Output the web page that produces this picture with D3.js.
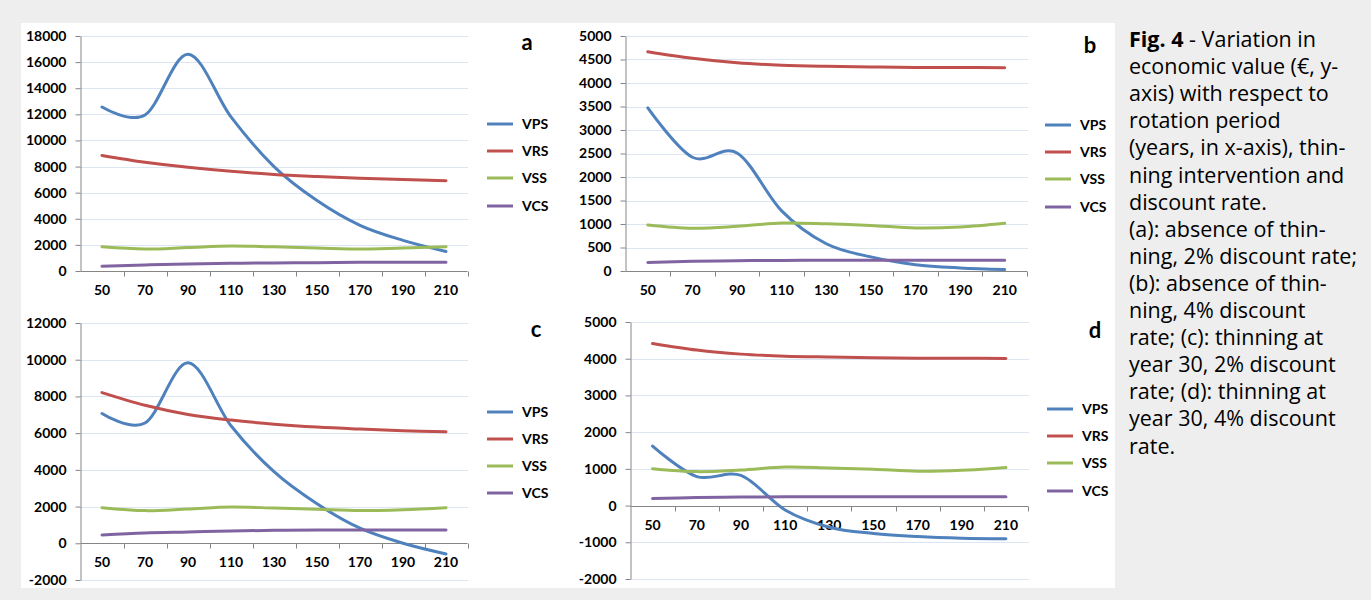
<!DOCTYPE html>
<html>
<head>
<meta charset="utf-8">
<script src="https://cdn.jsdelivr.net/npm/d3@7"></script>
<style>
  html, body { margin: 0; padding: 0; background: #eeeeee; }
  svg { display: block; }
</style>
</head>
<body>
<svg id="chart" width="1371" height="600"></svg>
<script>
// ---------- DATA ----------
const categories = [50, 70, 90, 110, 130, 150, 170, 190, 210];
const seriesNames = ["VPS", "VRS", "VSS", "VCS"];

// panel a: absence of thinning, 2% discount rate
const VPS_a = [12560, 11950, 16600, 11800, 8000, 5400, 3500, 2350, 1500];
const VRS_a = [8850, 8330, 7950, 7640, 7390, 7230, 7100, 7000, 6920];
const VSS_a = [1850, 1680, 1800, 1920, 1850, 1770, 1680, 1770, 1850];
const VCS_a = [360, 460, 540, 590, 620, 640, 665, 670, 670];
const yTicks_a = [0, 2000, 4000, 6000, 8000, 10000, 12000, 14000, 16000, 18000];

// panel b: absence of thinning, 4% discount rate
const VPS_b = [3470, 2420, 2510, 1280, 580, 300, 135, 65, 30];
const VRS_b = [4665, 4525, 4430, 4380, 4355, 4340, 4332, 4330, 4325];
const VSS_b = [980, 910, 950, 1020, 1005, 970, 915, 935, 1015];
const VCS_b = [180, 205, 218, 226, 228, 228, 228, 228, 228];
const yTicks_b = [0, 500, 1000, 1500, 2000, 2500, 3000, 3500, 4000, 4500, 5000];

// panel c: thinning at year 30, 2% discount rate
const VPS_c = [7070, 6550, 9830, 6400, 3900, 2150, 820, 0, -580];
const VRS_c = [8210, 7520, 7020, 6710, 6490, 6330, 6220, 6130, 6070];
const VSS_c = [1940, 1780, 1870, 1975, 1920, 1850, 1780, 1830, 1940];
const VCS_c = [450, 560, 615, 670, 705, 725, 725, 725, 725];
const yTicks_c = [-2000, 0, 2000, 4000, 6000, 8000, 10000, 12000];

// panel d: thinning at year 30, 4% discount rate
const VPS_d = [1620, 790, 820, -120, -590, -760, -845, -890, -905];
const VRS_d = [4415, 4235, 4125, 4070, 4045, 4025, 4015, 4015, 4005];
const VSS_d = [1005, 925, 970, 1050, 1025, 990, 935, 960, 1035];
const VCS_d = [190, 218, 232, 238, 240, 240, 240, 240, 240];
const yTicks_d = [-2000, -1000, 0, 1000, 2000, 3000, 4000, 5000];

const panelLetters = ["a", "b", "c", "d"];

const captionLines = [
  ["Fig. 4", " - Variation in"],
  ["", "economic value (€, y-"],
  ["", "axis) with respect to"],
  ["", "rotation period"],
  ["", "(years, in x-axis), thin-"],
  ["", "ning intervention and"],
  ["", "discount rate."],
  ["", "(a): absence of thin-"],
  ["", "ning, 2% discount rate;"],
  ["", "(b): absence of thin-"],
  ["", "ning, 4% discount"],
  ["", "rate; (c): thinning at"],
  ["", "year 30, 2% discount"],
  ["", "rate; (d): thinning at"],
  ["", "year 30, 4% discount"],
  ["", "rate."]
];

// ---------- STYLE / LAYOUT ----------
const colors = ["#4F81BD", "#C0504D", "#9BBB59", "#8064A2"];
const font = "Lato, 'Open Sans', sans-serif";

const panels = [
  { series: [VPS_a, VRS_a, VSS_a, VCS_a], ticks: yTicks_a, left: 80.5, right: 467.5, top: 36, bottom: 271,
    legX: 487, legY: [124, 151, 178, 206], letterX: 527, letterY: 50 },
  { series: [VPS_b, VRS_b, VSS_b, VCS_b], ticks: yTicks_b, left: 625.5, right: 1027, top: 36, bottom: 271,
    legX: 1045, legY: [125, 152, 179, 207], letterX: 1090, letterY: 53 },
  { series: [VPS_c, VRS_c, VSS_c, VCS_c], ticks: yTicks_c, left: 80.5, right: 467.5, top: 323, bottom: 580,
    legX: 487, legY: [412, 439, 466, 493], letterX: 536, letterY: 337 },
  { series: [VPS_d, VRS_d, VSS_d, VCS_d], ticks: yTicks_d, left: 630.5, right: 1028, top: 322, bottom: 579,
    legX: 1047, legY: [409, 436, 463, 491], letterX: 1095, letterY: 338 }
];

const svg = d3.select("#chart");

// white figure area
svg.append("rect").attr("x", 21).attr("y", 23).attr("width", 1094).attr("height", 565).attr("fill", "#ffffff");

panels.forEach((p, pi) => {
  const g = svg.append("g");
  const yMin = d3.min(p.ticks), yMax = d3.max(p.ticks);
  const y = d3.scaleLinear().domain([yMin, yMax]).range([p.bottom, p.top]);
  const x = d3.scaleBand().domain(categories).range([p.left, p.right]).padding(0);
  const y0 = Math.round(y(0)) + 0.5;

  // gridlines (dotted)
  g.append("g").selectAll("line").data(p.ticks.filter(t => t !== 0)).join("line")
    .attr("x1", p.left).attr("x2", p.right + 1)
    .attr("y1", d => Math.round(y(d)) + 0.5).attr("y2", d => Math.round(y(d)) + 0.5)
    .attr("stroke", "#b8cce4").attr("stroke-width", 1).attr("stroke-dasharray", "1,1");

  // y axis
  const yAxis = d3.axisLeft(y).tickValues(p.ticks).tickSize(5).tickSizeOuter(0).tickPadding(9)
    .tickFormat(d => String(d));
  const ya = g.append("g").attr("transform", `translate(${p.left},0)`).call(yAxis);
  ya.selectAll("path,line").attr("stroke", "#868686");
  ya.selectAll("text").attr("font-family", font).attr("font-weight", 700).attr("font-size", 14).attr("fill", "#000");

  // x axis (labels centred in bands, ticks at band boundaries)
  const xAxis = d3.axisBottom(x).tickSize(0).tickPadding(14);
  const xa = g.append("g").attr("transform", `translate(0,${y0})`).call(xAxis);
  xa.select(".domain").remove();
  xa.selectAll("text").attr("font-family", font).attr("font-weight", 700).attr("font-size", 14).attr("fill", "#000");
  g.append("line").attr("x1", p.left).attr("x2", p.right).attr("y1", y0).attr("y2", y0)
    .attr("stroke", "#868686");
  const bounds = categories.map(c => x(c)).concat([p.right]);
  g.append("g").selectAll("line").data(bounds.slice(1)).join("line")
    .attr("x1", d => Math.round(d) + 0.5).attr("x2", d => Math.round(d) + 0.5)
    .attr("y1", y0).attr("y2", y0 + 5).attr("stroke", "#868686");

  // lines
  const line = d3.line()
    .x((d, i) => x(categories[i]) + x.bandwidth() / 2)
    .y(d => y(d))
    .curve(d3.curveCardinal.tension(0));
  p.series.forEach((s, si) => {
    g.append("path").attr("d", line(s)).attr("fill", "none")
      .attr("stroke", colors[si]).attr("stroke-width", 3).attr("stroke-linecap", "round");
  });

  // legend
  seriesNames.forEach((n, si) => {
    const ly = p.legY[si];
    g.append("line").attr("x1", p.legX).attr("x2", p.legX + 26).attr("y1", ly).attr("y2", ly)
      .attr("stroke", colors[si]).attr("stroke-width", 3);
    g.append("text").attr("x", p.legX + 35).attr("y", ly).attr("dy", "0.35em")
      .attr("font-family", font).attr("font-weight", 700).attr("font-size", 14).attr("fill", "#000").text(n);
  });

  // panel letter
  g.append("text").attr("x", p.letterX).attr("y", p.letterY).attr("text-anchor", "middle")
    .attr("font-family", font).attr("font-weight", 700).attr("font-size", 22).attr("fill", "#000")
    .text(panelLetters[pi]);
});

// caption
const cap = svg.append("text").attr("font-family", "'Open Sans', Lato, sans-serif").attr("font-size", 21.5).attr("fill", "#000");
captionLines.forEach((ln, i) => {
  const t = cap.append("tspan").attr("x", 1129).attr("y", 47 + i * 27.1);
  if (ln[0]) t.append("tspan").attr("font-weight", 700).text(ln[0]);
  t.append("tspan").text(ln[1]);
});
</script>
</body>
</html>
